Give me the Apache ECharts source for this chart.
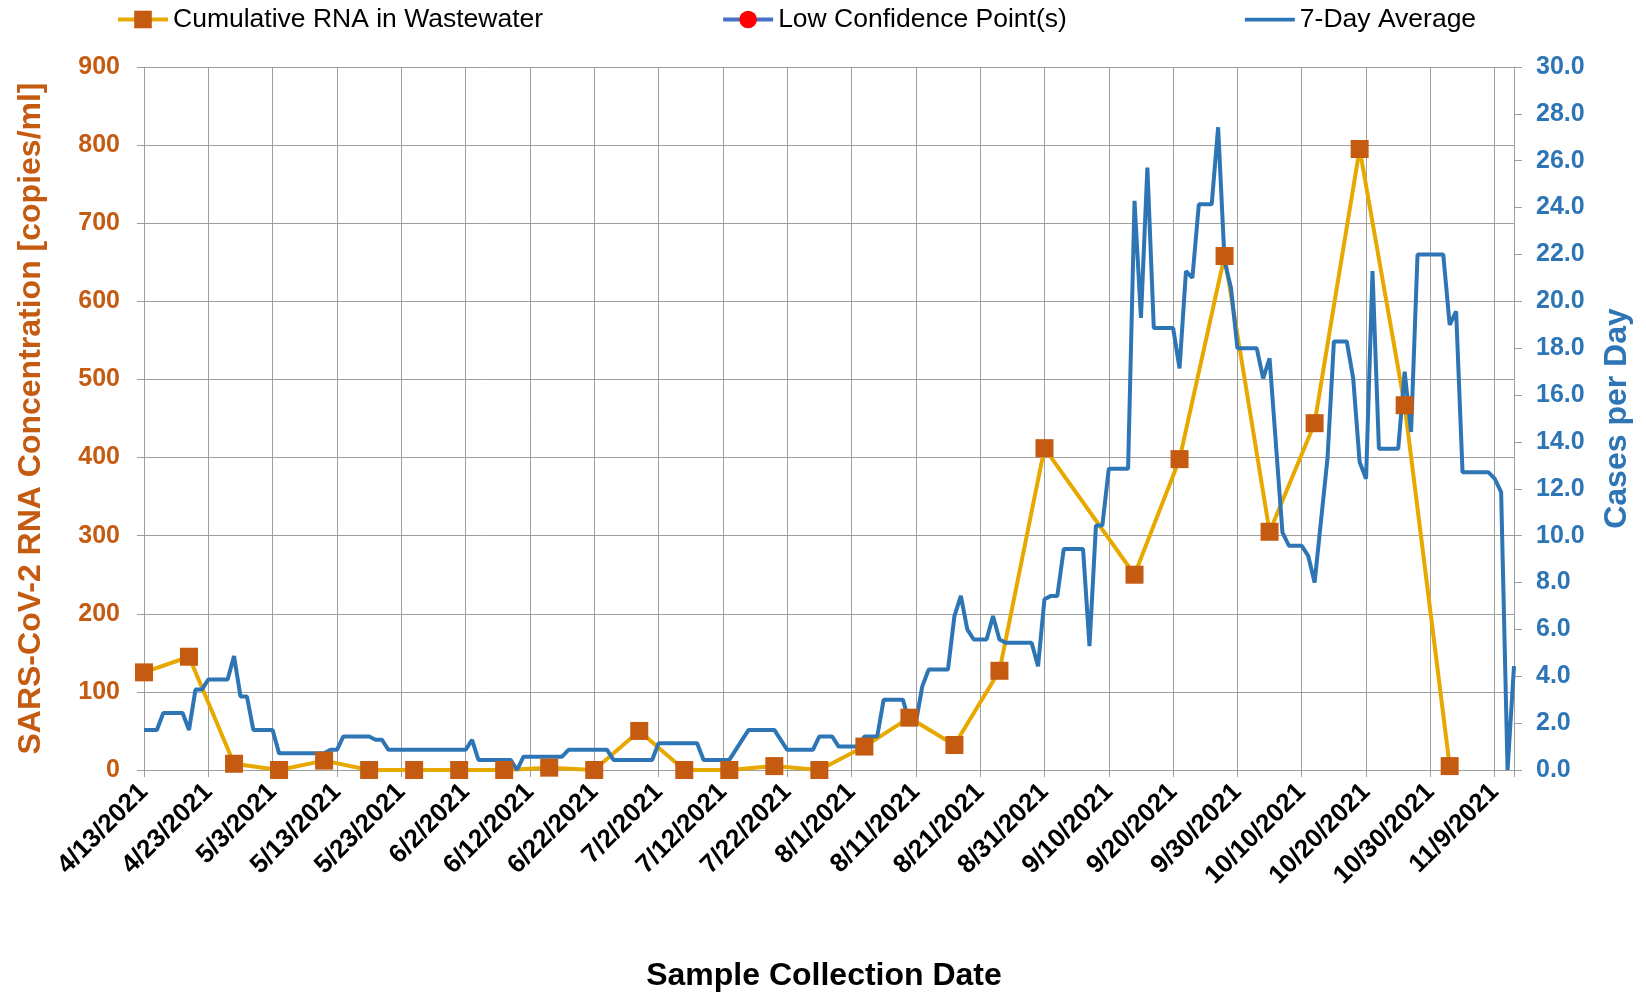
<!DOCTYPE html>
<html>
<head>
<meta charset="utf-8">
<title>SARS-CoV-2 RNA in Wastewater</title>
<script src="https://cdn.jsdelivr.net/npm/echarts@6/dist/echarts.min.js"></script>
<style>
  html, body { margin: 0; padding: 0; background: #fff; }
  #chart { width: 1646px; height: 993px; }
</style>
</head>
<body>
<div id="chart"></div>
<script>
// weekly wastewater samples (copies/ml)
var rnaDates = [
  '2021-04-13', '2021-04-20', '2021-04-27', '2021-05-04', '2021-05-11', '2021-05-18',
  '2021-05-25', '2021-06-01', '2021-06-08', '2021-06-15', '2021-06-22', '2021-06-29',
  '2021-07-06', '2021-07-13', '2021-07-20', '2021-07-27', '2021-08-03', '2021-08-10',
  '2021-08-17', '2021-08-24', '2021-08-31', '2021-09-14', '2021-09-21', '2021-09-28',
  '2021-10-05', '2021-10-12', '2021-10-19', '2021-10-26', '2021-11-02'
];
var rnaValues = [
  125, 145, 8, 0, 12, 0,
  0, 0, 0, 3, 0, 50,
  0, 0, 5, 0, 30, 67,
  32, 127, 412, 250, 398, 658,
  305, 444, 795, 467, 5
];

// low confidence points (none in this period)
var lowConfDates = [];
var lowConfValues = [];

// 7-day average of cases per day (corners of the line)
var caseDates = [
  '2021-04-13', '2021-04-15', '2021-04-16', '2021-04-19', '2021-04-20', '2021-04-21',
  '2021-04-22', '2021-04-23', '2021-04-26', '2021-04-27', '2021-04-28', '2021-04-29',
  '2021-04-30', '2021-05-03', '2021-05-04', '2021-05-11', '2021-05-12', '2021-05-13',
  '2021-05-14', '2021-05-18', '2021-05-19', '2021-05-20', '2021-05-21', '2021-06-02',
  '2021-06-03', '2021-06-04', '2021-06-09', '2021-06-10', '2021-06-11', '2021-06-17',
  '2021-06-18', '2021-06-24', '2021-06-25', '2021-07-01', '2021-07-02', '2021-07-08',
  '2021-07-09', '2021-07-13', '2021-07-16', '2021-07-20', '2021-07-22', '2021-07-26',
  '2021-07-27', '2021-07-29', '2021-07-30', '2021-08-02', '2021-08-03', '2021-08-05',
  '2021-08-06', '2021-08-09', '2021-08-10', '2021-08-11', '2021-08-12', '2021-08-13',
  '2021-08-16', '2021-08-17', '2021-08-18', '2021-08-19', '2021-08-20', '2021-08-22',
  '2021-08-23', '2021-08-24', '2021-08-25', '2021-08-29', '2021-08-30', '2021-08-31',
  '2021-09-01', '2021-09-02', '2021-09-03', '2021-09-06', '2021-09-07', '2021-09-08',
  '2021-09-09', '2021-09-10', '2021-09-13', '2021-09-14', '2021-09-15', '2021-09-16',
  '2021-09-17', '2021-09-20', '2021-09-21', '2021-09-22', '2021-09-23', '2021-09-24',
  '2021-09-26', '2021-09-27', '2021-09-28', '2021-09-29', '2021-09-30', '2021-10-03',
  '2021-10-04', '2021-10-05', '2021-10-07', '2021-10-08', '2021-10-10', '2021-10-11',
  '2021-10-12', '2021-10-14', '2021-10-15', '2021-10-17', '2021-10-18', '2021-10-19',
  '2021-10-20', '2021-10-21', '2021-10-22', '2021-10-25', '2021-10-26', '2021-10-27',
  '2021-10-28', '2021-11-01', '2021-11-02', '2021-11-03', '2021-11-04', '2021-11-08',
  '2021-11-09', '2021-11-10', '2021-11-11', '2021-11-12'
];
var caseValues = [
  1.71, 1.71, 2.43, 2.43, 1.71, 3.43,
  3.43, 3.86, 3.86, 4.86, 3.14, 3.14,
  1.71, 1.71, 0.71, 0.71, 0.86, 0.86,
  1.43, 1.43, 1.29, 1.29, 0.86, 0.86,
  1.29, 0.43, 0.43, 0, 0.57, 0.57,
  0.86, 0.86, 0.43, 0.43, 1.14, 1.14,
  0.43, 0.43, 1.71, 1.71, 0.86, 0.86,
  1.43, 1.43, 1.0, 1.0, 1.43, 1.43,
  3.0, 3.0, 2.0, 2.0, 3.57, 4.29,
  4.29, 6.57, 7.43, 6.0, 5.57, 5.57,
  6.57, 5.57, 5.43, 5.43, 4.43, 7.29,
  7.43, 7.43, 9.43, 9.43, 5.29, 10.43,
  10.43, 12.86, 12.86, 24.29, 19.29, 25.71,
  18.86, 18.86, 17.14, 21.29, 21.0, 24.14,
  24.14, 27.43, 21.71, 20.57, 18.0, 18.0,
  16.71, 17.57, 10.14, 9.57, 9.57, 9.14,
  8.0, 13.29, 18.29, 18.29, 16.71, 13.14,
  12.43, 21.29, 13.71, 13.71, 17.0, 14.43,
  22.0, 22.0, 19.0, 19.57, 12.71, 12.71,
  12.43, 11.86, 0, 4.43
];

var xStart = '2021-04-13';
var xEnd = '2021-11-12';
var tickDays = 10;
var rnaMin = 0, rnaMax = 900, rnaStep = 100;
var caseMin = 0, caseMax = 30, caseStep = 2;

var DAY = 86400000;
function toTime(s) {
  var p = s.split('-');
  return Date.UTC(+p[0], +p[1] - 1, +p[2]);
}
function pairs(dates, values) {
  return dates.map(function (d, i) { return [toTime(d), values[i]]; });
}
var xMin = toTime(xStart);
var xMax = toTime(xEnd);

var gridColor = '#9E9E9E';
var orange = '#C55A11';
var blue = '#2E75B6';
var font = "'Liberation Sans', Arial, sans-serif";

var myChart = echarts.init(document.getElementById('chart'));
myChart.setOption({
  animation: false,
  textStyle: { fontFamily: font },
  legend: {
    top: 1,
    left: 111,
    itemGap: 178,
    itemWidth: 50,
    itemHeight: 22,
    lineStyle: { width: 4 },
    data: [
      'Cumulative RNA in Wastewater',
      'Low Confidence Point(s)',
      // plain line, no marker
      { name: '7-Day Average', icon: 'path://M0,0H40V3H0Z' }
    ],
    textStyle: { fontSize: 26.5, color: '#000', fontFamily: font }
  },
  grid: {
    left: 144,
    right: 132,
    top: 67,
    bottom: 223,
    containLabel: false,
    outerBoundsMode: 'none'
  },
  xAxis: {
    type: 'value',
    min: xMin,
    max: xMax,
    interval: tickDays * DAY,
    name: 'Sample Collection Date',
    nameLocation: 'middle',
    nameGap: 190,
    nameTextStyle: {
      fontSize: 32, fontWeight: 'bold', color: '#000', fontFamily: font,
      padding: [0, 10, 0, 0]
    },
    axisLine: { show: true, lineStyle: { color: gridColor, width: 1 } },
    axisTick: { show: true, length: 7, lineStyle: { color: gridColor } },
    splitLine: { show: true, lineStyle: { color: gridColor, width: 1 } },
    axisLabel: {
      rotate: 45,
      margin: 18,
      fontSize: 26,
      fontWeight: 'bold',
      color: '#000',
      fontFamily: font,
      formatter: function (v) {
        if (Math.round((v - xMin) / DAY) % tickDays !== 0) return '';
        var d = new Date(v);
        return (d.getUTCMonth() + 1) + '/' + d.getUTCDate() + '/' + d.getUTCFullYear();
      }
    }
  },
  yAxis: [
    {
      type: 'value',
      position: 'left',
      min: rnaMin,
      max: rnaMax,
      interval: rnaStep,
      name: 'SARS-CoV-2 RNA Concentration [copies/ml]',
      nameLocation: 'middle',
      nameRotate: 90,
      nameGap: 97,
      nameTextStyle: { fontSize: 32, fontWeight: 'bold', color: orange, fontFamily: font },
      axisLine: { show: true, lineStyle: { color: gridColor, width: 1 } },
      axisTick: { show: true, length: 7, lineStyle: { color: gridColor } },
      splitLine: { show: true, lineStyle: { color: gridColor, width: 1 } },
      axisLabel: { fontSize: 25, fontWeight: 'bold', color: orange, margin: 24, fontFamily: font }
    },
    {
      type: 'value',
      position: 'right',
      min: caseMin,
      max: caseMax,
      interval: caseStep,
      name: 'Cases per Day',
      nameLocation: 'middle',
      nameRotate: 90,
      nameGap: 87,
      nameTextStyle: { fontSize: 32, fontWeight: 'bold', color: blue, fontFamily: font },
      axisLine: { show: true, lineStyle: { color: gridColor, width: 1 } },
      axisTick: { show: true, length: 8, lineStyle: { color: gridColor } },
      splitLine: { show: false },
      axisLabel: {
        fontSize: 25, fontWeight: 'bold', color: blue, margin: 22, fontFamily: font,
        formatter: function (v) { return v.toFixed(1); }
      }
    }
  ],
  series: [
    {
      name: 'Cumulative RNA in Wastewater',
      type: 'line',
      yAxisIndex: 0,
      data: pairs(rnaDates, rnaValues),
      symbol: 'rect',
      symbolSize: 18,
      itemStyle: { color: orange },
      lineStyle: { color: '#E7A900', width: 4 }
    },
    {
      name: 'Low Confidence Point(s)',
      type: 'line',
      yAxisIndex: 0,
      data: pairs(lowConfDates, lowConfValues),
      symbol: 'circle',
      symbolSize: 16,
      itemStyle: { color: '#FF0000' },
      lineStyle: { color: '#4472C4', width: 4 }
    },
    {
      name: '7-Day Average',
      type: 'line',
      yAxisIndex: 1,
      data: pairs(caseDates, caseValues),
      symbol: 'none',
      itemStyle: { color: blue },
      lineStyle: { color: blue, width: 4 }
    }
  ]
});
</script>
</body>
</html>
